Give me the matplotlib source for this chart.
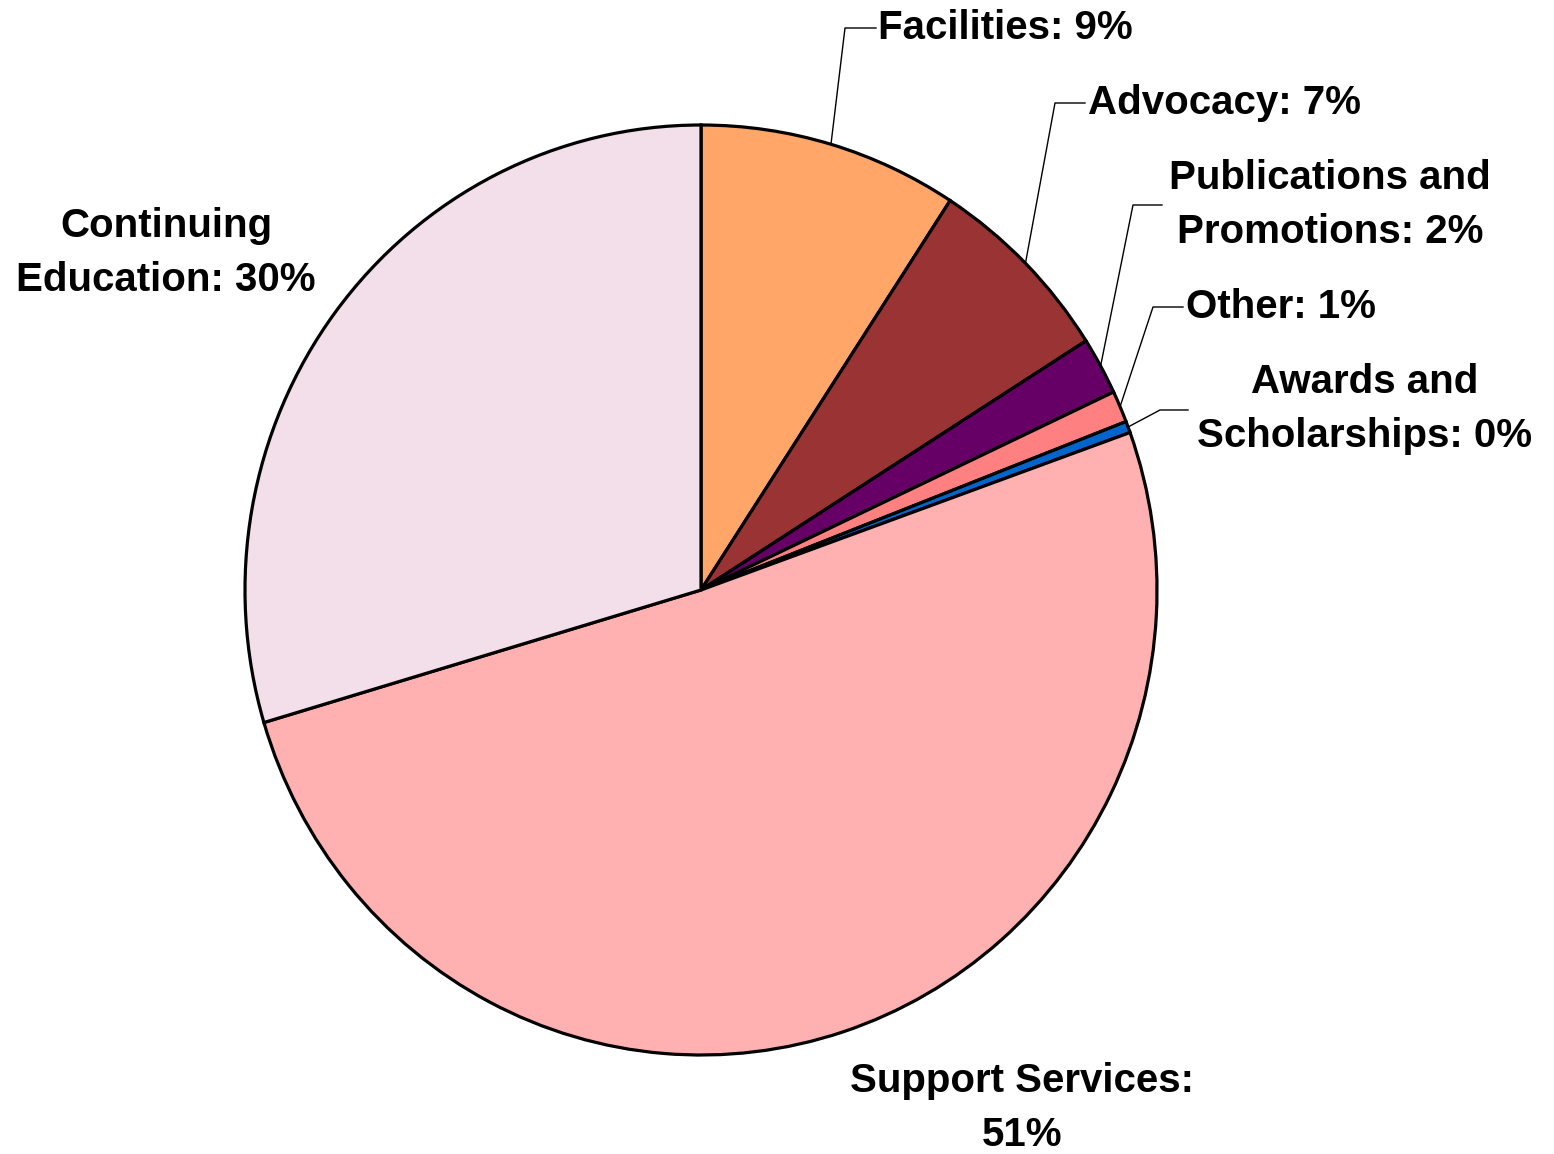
import numpy as np
import matplotlib.pyplot as plt

# slices clockwise from 12 o'clock
labels = ['Facilities', 'Advocacy', 'Publications and\nPromotions', 'Other',
          'Awards and\nScholarships', 'Support Services:\n', 'Continuing\nEducation']
values = [9.2, 6.8, 2.0, 1.1, 0.4, 50.9, 29.6]
colors = ['#FFA668', '#9A3434', '#660066', '#FF8080', '#0066CC', '#FFB0B0', '#F3DFEA']

W, H = 1554, 1154
CX, CY, RX, RY = 701, 590, 456, 465


def px(x, y):
    # pixel position -> data coords (pie radius 1 at centre)
    return (x - CX) / RX, (CY - y) / RY


fig = plt.figure(figsize=(W / 100, H / 100), dpi=100)
ax = fig.add_axes([0, 0, 1, 1])
wedges, _ = ax.pie(values, colors=colors, startangle=90, counterclock=False,
                   radius=1, wedgeprops=dict(edgecolor='black', linewidth=2.3))
ax.set_aspect('auto')
ax.set_xlim(-CX / RX, (W - CX) / RX)
ax.set_ylim((CY - H) / RY, CY / RY)
ax.axis('off')

font = dict(family='Liberation Sans', fontweight='bold', fontsize=29, color='black')

# label text: (index, text position px, alignment, elbow px, end px)
placements = [
    (0, (878, 28), 'left', (845, 28), (876, 28)),
    (1, (1088, 103), 'left', (1055, 103), (1085, 103)),
    (2, (1330, 205), 'center', (1133, 205), (1162, 205)),
    (3, (1186, 307), 'left', (1153, 307), (1183, 307)),
    (4, (1365, 409), 'center', (1160, 410), (1188, 410)),
    (5, (1022, 1108), 'center', None, None),
    (6, (166, 253), 'center', None, None),
]

for i, pos, ha, elbow, end in placements:
    pct = f"{values[i]:.0f}%"
    name = labels[i]
    if name.endswith('\n'):
        text = name + pct
    else:
        text = name + ': ' + pct
    x, y = px(*pos)
    ax.text(x, y, text, ha=ha, va='center', multialignment='center',
            linespacing=1.52, **font)
    if elbow is not None:
        w = wedges[i]
        mid = np.deg2rad((w.theta1 + w.theta2) / 2)
        sx, sy = np.cos(mid), np.sin(mid)
        ex, ey = px(*elbow)
        tx, ty = px(*end)
        ax.plot([sx, ex, tx], [sy, ey, ty], color='black', linewidth=1)

fig.savefig('out.png', dpi=100)
